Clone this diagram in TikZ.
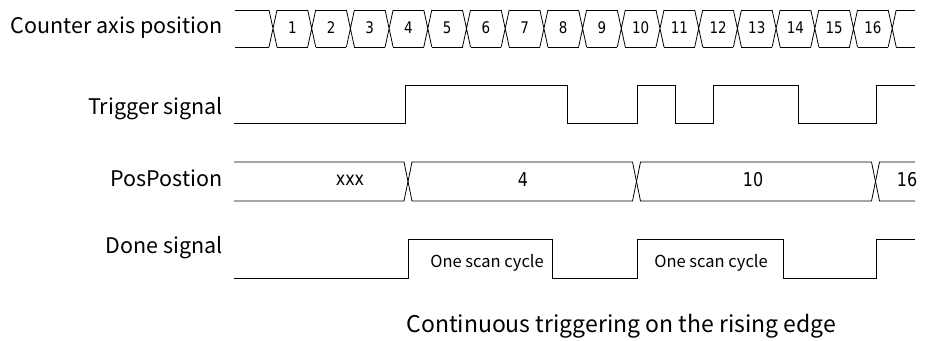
\documentclass[tikz,border=0pt]{standalone}
\usepackage{fontspec}
\setmainfont{Noto Sans CJK SC}
\newfontfamily\numfont[FakeStretch=0.84]{DejaVu Sans}

\begin{document}
\begin{tikzpicture}[x=1pt, y=-1pt, line width=0.8pt,
	lbl/.style={anchor=base east, inner sep=0pt, font=\fontsize{21.5}{25}\selectfont},
	cnt/.style={font=\numfont\fontsize{16}{18}\selectfont},
	val/.style={font=\numfont\fontsize{19}{22}\selectfont},
	note/.style={anchor=base, font=\fontsize{16.5}{19}\selectfont}]
	\useasboundingbox (0,0) rectangle (925,340);
	% Signal names:
	\node[lbl] (lcnt) at (223,33) {Counter axis position};
	\node[lbl] (ltrg) at (223,114) {Trigger signal};
	\node[lbl] (lpos) at (223,186) {PosPostion};
	\node[lbl] (ldone) at (223,253) {Done signal};
	% Counter axis position:
	\draw (235,10) -- (269,10) (235,47) -- (269,47);
	\foreach \k in {0,...,16} {
		\pgfmathsetmacro\c{273+38.7*\k}
		\draw ({\c-4},10) -- ({\c+4},47) ({\c-4},47) -- ({\c+4},10);
	}
	\foreach \k in {0,...,15} {
		\pgfmathsetmacro\c{273+38.7*\k}
		\draw ({\c+4},10) -- ({\c+34.7},10) ({\c+4},47) -- ({\c+34.7},47);
	}
	\draw (896,10) -- (915,10) (896,47) -- (915,47);
	\foreach \k in {1,...,16}
		\node[cnt] (n\k) at ({273+38.7*(\k-0.5)},28) {\k};
	% Trigger signal:
	\draw (234,123.5) -- (405,123.5) -- (405,85) -- (567,85) -- (567,123.5)
		-- (637,123.5) -- (637,85) -- (675,85) -- (675,123.5) -- (713,123.5)
		-- (713,85) -- (798,85) -- (798,123.5) -- (876,123.5) -- (876,85) -- (915,85);
	% PosPostion:
	\draw (234,162) -- (404,162) -- (412,201) -- (632.5,201) -- (640.5,162)
		-- (871.5,162) -- (879.5,201) -- (915,201);
	\draw (234,201) -- (404,201) -- (412,162) -- (632.5,162) -- (640.5,201)
		-- (871.5,201) -- (879.5,162) -- (915,162);
	\node[val] (pxxx) at (350,180) {xxx};
	\node[val] (p4) at (523,180) {4};
	\node[val] (p10) at (753,180) {10};
	\node[val] (p16) at (907,180) {16};
	% Done signal:
	\draw (234,278) -- (408,278) -- (408,239) -- (552,239) -- (552,278)
		-- (637,278) -- (637,239) -- (783,239) -- (783,278) -- (876,278)
		-- (876,239) -- (915,239);
	\node[note] (scan1) at (487,267) {One scan cycle};
	\node[note] (scan2) at (711,267) {One scan cycle};
	% Caption:
	\node[anchor=base west, inner sep=0pt, font=\fontsize{23}{27}\selectfont] (cap) at (406,332)
		{Continuous triggering on the rising edge};
\end{tikzpicture}
\end{document}
